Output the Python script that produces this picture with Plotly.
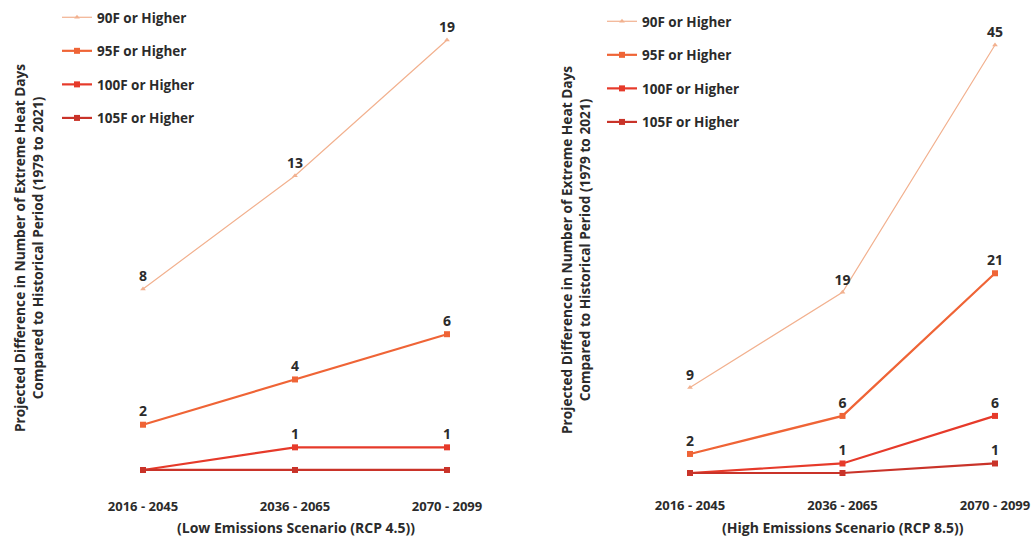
import plotly.graph_objects as go

# Time periods and series values (projected extra extreme-heat days)
periods = ["2016 - 2045", "2036 - 2065", "2070 - 2099"]
series_names = ["90F or Higher", "95F or Higher", "100F or Higher", "105F or Higher"]

low_90 = [8, 13, 19]
low_95 = [2, 4, 6]
low_100 = [0, 1, 1]
low_105 = [0, 0, 0]

high_90 = [9, 19, 45]
high_95 = [2, 6, 21]
high_100 = [0, 1, 6]
high_105 = [0, 0, 1]

low_series = [low_90, low_95, low_100, low_105]
high_series = [high_90, high_95, high_100, high_105]

colors = ["#f2b18f", "#ef6436", "#e63a2a", "#c93329"]
widths = [1.2, 2.2, 2.2, 2.2]
symbols = ["triangle-up", "square", "square", "square"]
msizes = [5, 6, 6, 6]

FONT = "Open Sans"
TXT = "#2b2b2b"


def bold(s):
    return "<b>" + s + "</b>"


fig = go.Figure()


def add_panel(series, xaxis, yaxis, legend):
    for name, vals, c, w, s, ms in zip(series_names, series, colors, widths, symbols, msizes):
        fig.add_trace(go.Scatter(
            x=periods, y=vals, name=bold(name), mode="lines+markers+text",
            line=dict(color=c, width=w),
            marker=dict(color=c, size=ms, symbol=s),
            text=[bold(str(v)) if v else "" for v in vals],
            textposition="top center",
            textfont=dict(family=FONT, size=14, color=TXT),
            xaxis=xaxis, yaxis=yaxis, legend=legend,
            legendgroup=legend + name,
            cliponaxis=False,
        ))


add_panel(low_series, "x", "y", "legend")
add_panel(high_series, "x2", "y2", "legend2")

W, H = 1034, 540


def xdom(p0, p1):
    return [p0 / W, p1 / W]


def ydom(top, bottom):
    return [(H - bottom) / H, (H - top) / H]


tick_text = [bold(p) for p in periods]

axis_x = dict(showgrid=False, zeroline=False, showline=False, ticks="",
              tickfont=dict(family=FONT, size=13, color=TXT),
              tickmode="array", tickvals=periods, ticktext=tick_text,
              automargin=False, ticklabelstandoff=4)
axis_y = dict(showgrid=False, zeroline=False, showline=False, showticklabels=False,
              ticks="", automargin=False)

legend_style = dict(
    font=dict(family=FONT, size=13.5, color=TXT),
    bgcolor="rgba(0,0,0,0)", tracegroupgap=13, itemwidth=30,
    xanchor="left", yanchor="top", traceorder="grouped",
)

ytitle = bold("Projected Difference in Number of Extreme Heat Days<br>"
              "Compared to Historical Period (1979 to 2021)")

title_font = dict(family=FONT, size=13.7, color=TXT)

fig.update_layout(
    width=W, height=H,
    margin=dict(l=0, r=0, t=0, b=0),
    paper_bgcolor="white", plot_bgcolor="white",
    font=dict(family=FONT, color=TXT),
    xaxis=dict(axis_x, domain=xdom(143 - 53.2, 447 + 53.2), range=[-0.35, 2.35]),
    yaxis=dict(axis_y, domain=ydom(17.4, 492.6), range=[-1, 20]),
    xaxis2=dict(axis_x, domain=xdom(690 - 53.4, 995 + 30.5), range=[-0.35, 2.2], anchor="y2"),
    yaxis2=dict(axis_y, domain=ydom(26, 492), range=[-2, 47], anchor="x2"),
    legend=dict(legend_style, x=57 / W, y=1 - 2 / H),
    legend2=dict(legend_style, x=602 / W, y=1 - 6 / H),
    annotations=[
        dict(text=ytitle, textangle=-90, x=28 / W, y=1 - 248 / H, xref="paper", yref="paper",
             xanchor="center", yanchor="middle", showarrow=False, font=title_font),
        dict(text=ytitle, textangle=-90, x=575 / W, y=1 - 250 / H, xref="paper", yref="paper",
             xanchor="center", yanchor="middle", showarrow=False, font=title_font),
        dict(text=bold("(Low Emissions Scenario (RCP 4.5))"), x=296 / W, y=1 - 527 / H,
             xref="paper", yref="paper", xanchor="center", yanchor="middle",
             showarrow=False, font=dict(family=FONT, size=14, color=TXT)),
        dict(text=bold("(High Emissions Scenario (RCP 8.5))"), x=843 / W, y=1 - 527 / H,
             xref="paper", yref="paper", xanchor="center", yanchor="middle",
             showarrow=False, font=dict(family=FONT, size=14, color=TXT)),
    ],
)

fig.write_html("out.html")
